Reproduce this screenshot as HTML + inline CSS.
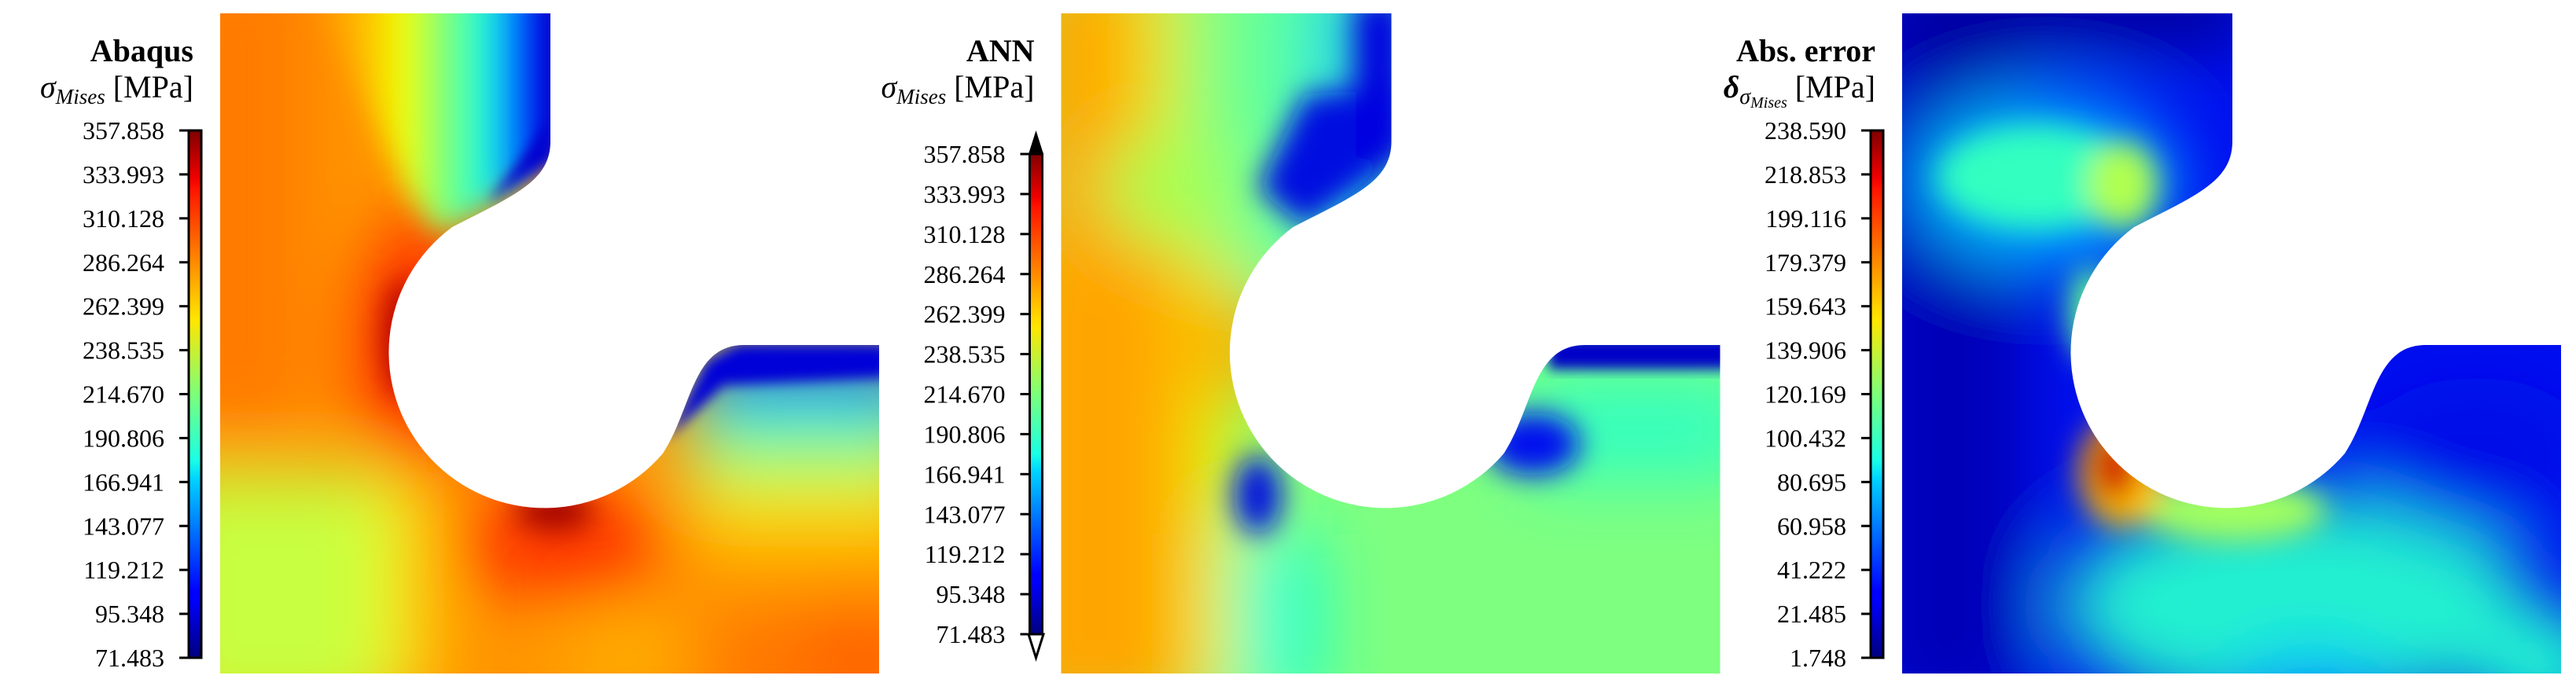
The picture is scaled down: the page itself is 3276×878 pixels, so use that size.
<!DOCTYPE html>
<html><head><meta charset="utf-8"><style>
html,body{margin:0;padding:0;background:#fff;}
svg{display:block;font-family:"Liberation Serif",serif;}
</style></head><body>
<svg id="fig" width="3276" height="878" viewBox="0 0 3276 878" xmlns="http://www.w3.org/2000/svg">
<defs>
<linearGradient id="jet" x1="0" y1="1" x2="0" y2="0">
<stop offset="0" stop-color="#00007f"/><stop offset="0.11" stop-color="#0000ff"/><stop offset="0.125" stop-color="#0000ff"/>
<stop offset="0.34" stop-color="#00d4ff"/><stop offset="0.375" stop-color="#1affe5"/><stop offset="0.5" stop-color="#7dff7a"/>
<stop offset="0.64" stop-color="#ffe600"/><stop offset="0.66" stop-color="#ffd800"/><stop offset="0.89" stop-color="#ff1300"/>
<stop offset="0.91" stop-color="#f00000"/><stop offset="1" stop-color="#800000"/></linearGradient>
<clipPath id="fieldclip"><rect x="280" y="17" width="838" height="840"/></clipPath>
<filter id="b40" x="-30%" y="-30%" width="160%" height="160%"><feGaussianBlur stdDeviation="45"/></filter>
<filter id="b15" x="-30%" y="-30%" width="160%" height="160%"><feGaussianBlur stdDeviation="18"/></filter>
<filter id="b8" x="-30%" y="-30%" width="160%" height="160%"><feGaussianBlur stdDeviation="8"/></filter>
<linearGradient id="armTop1" x1="400" y1="0" x2="700" y2="0" gradientUnits="userSpaceOnUse">
<stop offset="0" stop-color="#ff9000"/><stop offset="0.2" stop-color="#ffb800"/><stop offset="0.38" stop-color="#f0ff00"/><stop offset="0.52" stop-color="#90ff60"/>
<stop offset="0.7" stop-color="#20ffd0"/><stop offset="0.82" stop-color="#00a0ff"/><stop offset="0.9" stop-color="#0010ff"/><stop offset="1" stop-color="#0000c8"/></linearGradient>
<linearGradient id="armRight1" x1="0" y1="439" x2="0" y2="857" gradientUnits="userSpaceOnUse">
<stop offset="0" stop-color="#0000c8"/><stop offset="0.08" stop-color="#0010ff"/><stop offset="0.15" stop-color="#00c0ff"/>
<stop offset="0.25" stop-color="#40ffb0"/><stop offset="0.38" stop-color="#c0ff40"/><stop offset="0.5" stop-color="#ffe000"/>
<stop offset="0.65" stop-color="#ffa000"/><stop offset="1" stop-color="#ff6a00"/></linearGradient>
<linearGradient id="armTop2" x1="280" y1="0" x2="700" y2="0" gradientUnits="userSpaceOnUse">
<stop offset="0" stop-color="#ffa500"/><stop offset="0.2" stop-color="#ffb000"/><stop offset="0.3" stop-color="#f0f000"/><stop offset="0.42" stop-color="#80ff80"/>
<stop offset="0.72" stop-color="#50ffa8"/><stop offset="0.82" stop-color="#20f0e0"/><stop offset="0.9" stop-color="#00b0ff"/><stop offset="1" stop-color="#0000d0"/></linearGradient>
</defs>

<!-- PANEL 1 -->
<g id="p1">
 <g clip-path="url(#fieldclip)">
  <rect x="280" y="17" width="838" height="840" fill="#ff9500"/>
  <g filter="url(#b40)">
   <rect x="200" y="-50" width="190" height="600" fill="#ff7a00"/>
   <rect x="200" y="600" width="290" height="320" fill="#c8ff40"/>
   <rect x="490" y="590" width="50" height="300" fill="#ffee00"/>
   <ellipse cx="540" cy="440" rx="90" ry="170" fill="#ff3000"/>
   <ellipse cx="715" cy="690" rx="140" ry="70" fill="#ff3000"/>
   <rect x="880" y="439" width="300" height="450" fill="url(#armRight1)"/>
   <ellipse cx="1100" cy="840" rx="90" ry="70" fill="#ff6000"/>
   <ellipse cx="800" cy="830" rx="90" ry="50" fill="#ffb000"/>
  </g>
  <g filter="url(#b15)">
   <polygon points="400,-20 730,-20 730,190 610,270 560,300 520,250" fill="url(#armTop1)"/>
   <ellipse cx="515" cy="430" rx="28" ry="75" fill="#b00000"/>
   <ellipse cx="705" cy="650" rx="50" ry="25" fill="#a00000"/>
  </g>
  <g filter="url(#b8)">
   <polygon points="846,560 900,460 940,439 1130,439 1130,480 920,490" fill="#0000d8"/>
   <polygon points="680,180 700,150 700,200 620,260" fill="#0000d0"/>
  </g>
 </g>
</g>

<!-- PANEL 2 -->
<g id="p2" transform="translate(1069.5,0)">
 <g clip-path="url(#fieldclip)">
  <rect x="280" y="17" width="838" height="840" fill="#7fff80"/>
  <g filter="url(#b40)">
   <rect x="230" y="-50" width="480" height="380" fill="url(#armTop2)"/>
   <ellipse cx="420" cy="240" rx="90" ry="70" fill="#a8ff50"/>
   <rect x="200" y="320" width="250" height="600" fill="#ffa500"/>
   <rect x="440" y="320" width="60" height="580" fill="#f0f000"/>
   <ellipse cx="505" cy="440" rx="45" ry="70" fill="#ffa000"/>
   <rect x="500" y="680" width="110" height="220" fill="#20ffd0"/>
   <rect x="870" y="480" width="290" height="130" fill="#30ffc0"/>
  </g>
  <g filter="url(#b15)">
   <polygon points="590,120 720,110 720,190 590,290 530,240" fill="#0010e0"/>
   <rect x="655" y="0" width="60" height="200" fill="#0000e0"/>
   <ellipse cx="530" cy="630" rx="30" ry="50" fill="#0010e0"/>
   <ellipse cx="880" cy="565" rx="60" ry="40" fill="#0010f0"/>
  </g>
  <g filter="url(#b8)">
   <rect x="900" y="430" width="240" height="40" fill="#0000c8"/>
  </g>
 </g>
</g>

<!-- PANEL 3 -->
<g id="p3" transform="translate(2139,0)">
 <g clip-path="url(#fieldclip)">
  <rect x="280" y="17" width="838" height="840" fill="#0010f0"/>
  <g filter="url(#b40)">
   <rect x="240" y="-40" width="200" height="950" fill="#0000b8"/>
   <rect x="260" y="-40" width="460" height="100" fill="#000098"/>
   <ellipse cx="460" cy="230" rx="170" ry="110" fill="#00b0ff"/>
   <ellipse cx="780" cy="770" rx="300" ry="140" fill="#20f0d0"/>
   <ellipse cx="1100" cy="850" rx="90" ry="70" fill="#20ffd0"/>
   <ellipse cx="800" cy="870" rx="100" ry="40" fill="#00b8ff"/>
   <ellipse cx="1010" cy="580" rx="150" ry="100" fill="#0008e8"/>
  </g>
  <g filter="url(#b15)">
   <ellipse cx="450" cy="225" rx="125" ry="65" fill="#30ffc0"/>
   <ellipse cx="560" cy="235" rx="45" ry="55" fill="#b0ff50"/>
   <ellipse cx="520" cy="400" rx="28" ry="60" fill="#60ff90"/>
   <ellipse cx="700" cy="650" rx="120" ry="40" fill="#a0ff60"/>
   <ellipse cx="560" cy="600" rx="55" ry="70" fill="#ffc000"/>
   <ellipse cx="550" cy="594" rx="30" ry="44" fill="#d00000"/>
  </g>
 </g>
 <g>
  <rect x="849" y="36" width="252" height="176" rx="6" fill="#fff" stroke="#333" stroke-width="2"/>
  <text id="statsText" font-size="29" fill="#000"></text>
 </g>
</g>

<g id="masks"></g>
<g id="bars"></g>
</svg>
<script>
const ticks1 = ["357.858","333.993","310.128","286.264","262.399","238.535","214.670","190.806","166.941","143.077","119.212","95.348","71.483"];
const ticks2 = ["357.858","333.993","310.128","286.264","262.399","238.535","214.670","190.806","166.941","143.077","119.212","95.348","71.483"];
const ticks3 = ["238.590","218.853","199.116","179.379","159.643","139.906","120.169","100.432","80.695","60.958","41.222","21.485","1.748"];
const statLabels = ["Mean:","Median:","Max.:","Min.:"];
const statValues = ["57.736","60.727","238.59","1.748"];

const NS="http://www.w3.org/2000/svg";
function mk(tag,parent){const e=document.createElementNS(NS,tag);parent.appendChild(e);return e;}

const offsets=[0,1069.5,2139];
const maskG=document.getElementById('masks');
offsets.forEach((o)=>{
  const p=mk('path',maskG);
  p.setAttribute('d','M700 0 L700 180 C700 232 650 250 575 289 A198 198 0 1 0 843 577 C880 520 880 439 946 439 L1125 439 L1125 0 Z');
  p.setAttribute('transform','translate('+o+',0)');
  p.setAttribute('fill','#fff');
  
  
});

const barG=document.getElementById('bars');
const specs=[{o:0,t:ticks1,y0:166,y1:837,title:'Abaqus',arrow:false},
 {o:1069.5,t:ticks2,y0:196,y1:807,title:'ANN',arrow:true},
 {o:2139,t:ticks3,y0:166,y1:837,title:'Abs. error',arrow:false}];
specs.forEach((s,i)=>{
  const g=mk('g',barG);
  g.setAttribute('transform','translate('+s.o+',0)');
  
  
  const r=mk('rect',g);
  r.setAttribute('x',240);r.setAttribute('y',s.y0);r.setAttribute('width',16);r.setAttribute('height',s.y1-s.y0);
  r.setAttribute('fill','url(#jet)');r.setAttribute('stroke','#000');r.setAttribute('stroke-width',3);
  
  
  if(s.arrow){
    const a1=mk('polygon',g);
    a1.setAttribute('points','238.5,'+s.y0+' 257.5,'+s.y0+' 248,'+(s.y0-30));
    a1.setAttribute('fill','#000');
    
    
    const a2=mk('polygon',g);
    a2.setAttribute('points','238.5,'+s.y1+' 257.5,'+s.y1+' 248,'+(s.y1+30));
    a2.setAttribute('fill','#fff');a2.setAttribute('stroke','#000');a2.setAttribute('stroke-width',3);
    
    
  }
  const n=s.t.length;
  s.t.forEach((lab,k)=>{
    const y=s.y0+(s.y1-s.y0)*k/(n-1);
    const l=mk('line',g);
    l.setAttribute('x1',228);l.setAttribute('x2',240);l.setAttribute('y1',y);l.setAttribute('y2',y);
    l.setAttribute('stroke','#000');l.setAttribute('stroke-width',3);
    
    
    const t=mk('text',g);
    t.setAttribute('x',209);t.setAttribute('y',y+11);t.setAttribute('text-anchor','end');t.setAttribute('font-size',32);
    t.textContent=lab;
    
    
  });
  const tt=mk('text',g);
  tt.setAttribute('x',246);tt.setAttribute('y',78);tt.setAttribute('text-anchor','end');
  tt.setAttribute('font-size',40);tt.setAttribute('font-weight','bold');
  tt.textContent=s.title;
  
  
  const st=mk('text',g);
  st.setAttribute('x',246);st.setAttribute('y',124);st.setAttribute('text-anchor','end');st.setAttribute('font-size',40);
  
  
  if(i<2){
    st.innerHTML='<tspan font-style="italic">σ</tspan><tspan font-style="italic" font-size="27" dy="8">Mises</tspan><tspan dy="-8"> [MPa]</tspan>';
  } else {
    st.innerHTML='<tspan font-style="italic" font-weight="bold">δ</tspan><tspan font-style="italic" font-size="28" dy="8">σ</tspan><tspan font-style="italic" font-size="20" dy="5">Mises</tspan><tspan dy="-13"> [MPa]</tspan>';
  }
});

const stT=document.getElementById('statsText');
statLabels.forEach((lab,k)=>{
  const ts=document.createElementNS(NS,'tspan');
  ts.setAttribute('x',862);ts.setAttribute('y',73+k*38.5);
  ts.textContent=lab+' '+statValues[k];
  
  
  stT.appendChild(ts);
});
</script>
</body></html>
